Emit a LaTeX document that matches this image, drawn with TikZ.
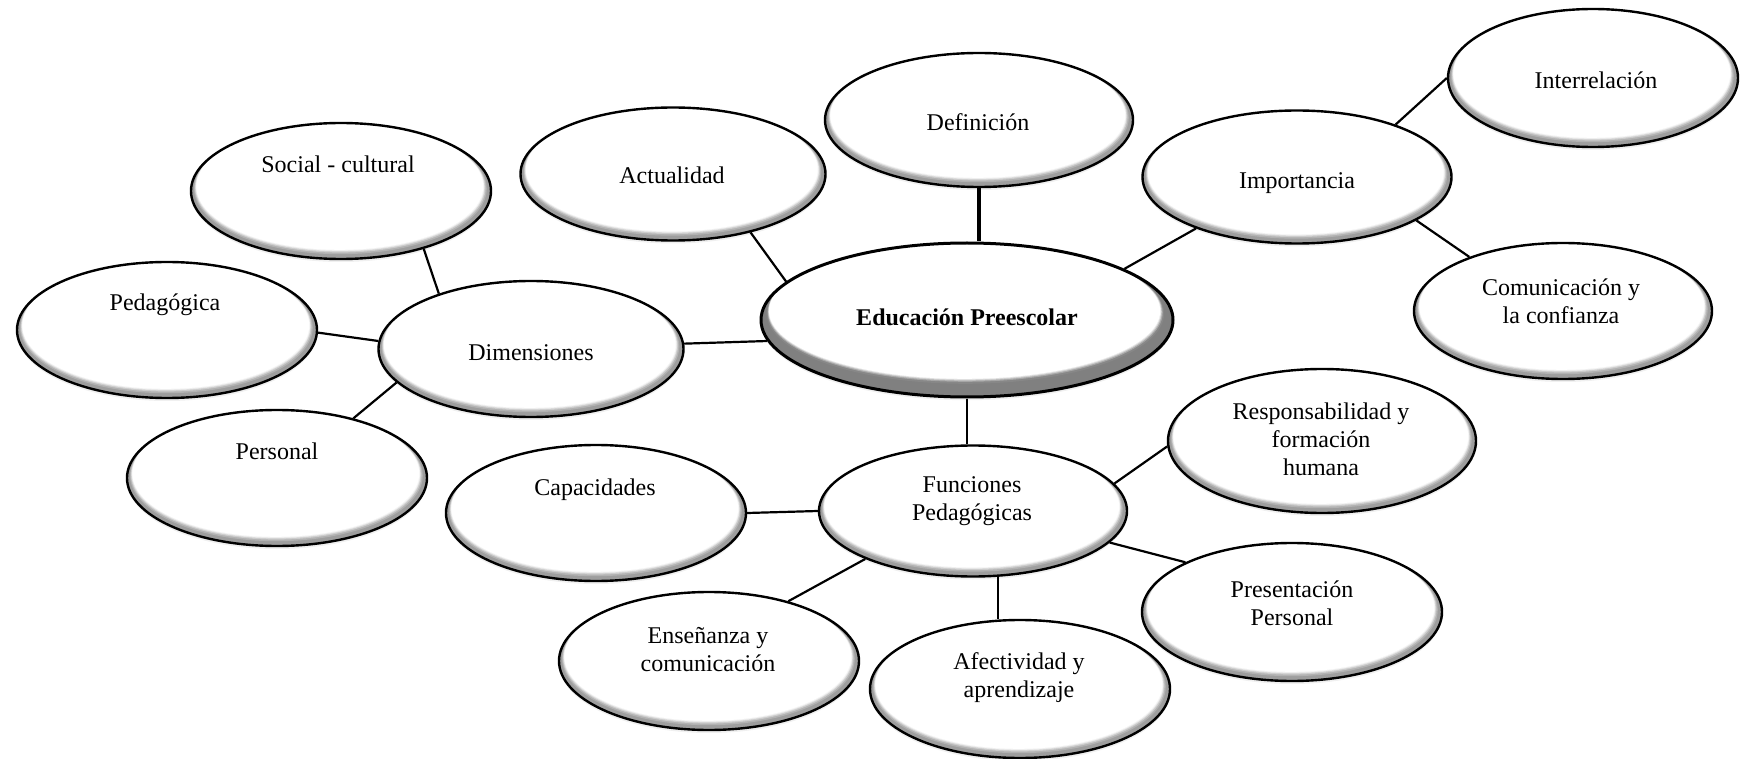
\documentclass[tikz,border=0pt]{standalone}
\usepackage{fontspec}
\setmainfont{Liberation Serif}
\usetikzlibrary{shapes.geometric,calc,shadows}
\newcommand\bvl[5]{\fill[#1] let \p1=(path picture bounding box.north east), \p2=(path picture bounding box.center) in ({\x2-#5},{\y2+#2}) ellipse [x radius={\x1-\x2-#3}, y radius={\y1-\y2-#2}];}
\begin{document}
\begin{tikzpicture}[x=0.5pt,y=-0.5pt,
  bub/.style={ellipse, draw=black, line width=1.2pt, fill=black!38, inner sep=0pt,
    minimum width=150pt, minimum height=68pt,
    drop shadow={opacity=0.12, shadow xshift=0pt, shadow yshift=-1.5pt},
    path picture={\bvl{black!30}{1.2pt}{1.8pt}{}{0.3pt}\bvl{black!20}{1.6pt}{2.3pt}{}{0.4pt}\bvl{black!10}{1.9pt}{2.7pt}{}{0.5pt}\bvl{black!4}{2.1pt}{3pt}{}{0.5pt}\bvl{white}{2.3pt}{3.3pt}{}{0.6pt}}},
  bigbub/.style={ellipse, draw=black, line width=1.5pt, fill=black!50, inner sep=0pt,
    minimum width=206pt, minimum height=77pt,
    drop shadow={opacity=0.12, shadow xshift=0pt, shadow yshift=-1.6pt},
    path picture={\bvl{black!47}{3.3pt}{3.6pt}{}{0.8pt}\bvl{black!35}{3.8pt}{4.2pt}{}{0.9pt}\bvl{black!20}{4.1pt}{4.6pt}{}{1pt}\bvl{black!8}{4.35pt}{4.9pt}{}{1.1pt}\bvl{white}{4.55pt}{5.2pt}{}{1.2pt}}},
  conn/.style={line width=1.1pt, draw=black},
  thickconn/.style={line width=2pt, draw=black},
  txt/.style={align=center, inner sep=0pt, font=\fontsize{12pt}{14pt}\selectfont},
  txt1/.style={txt, text height=8.5pt, text depth=2.5pt}
]
\useasboundingbox (0,0) rectangle (1741,759);

% bubbles
\node[bub] (soc) at (341,191) {};
\node[bub] (ped) at (167,330) {};
\node[bub, minimum width=152.5pt] (dim) at (531,349) {};
\node[bub] (per) at (277,478) {};
\node[bub, minimum width=152.5pt, minimum height=66.5pt] (act) at (673,174) {};
\node[bub, minimum width=154pt, minimum height=67pt] (def) at (979,120) {};
\node[bigbub] (edu) at (967,320) {};
\node[bub, minimum width=154.5pt, minimum height=66.5pt] (imp) at (1297,177) {};
\node[bub, minimum width=145pt, minimum height=69pt] (int) at (1593,78) {};
\node[bub, minimum width=149pt] (com) at (1563,311) {};
\node[bub] (cap) at (596,513) {};
\node[bub, minimum width=154pt, minimum height=65.5pt] (fun) at (973,511) {};
\node[bub, minimum width=154pt, minimum height=72pt] (res) at (1322,441) {};
\node[bub, minimum height=69pt] (pre) at (1292,612) {};
\node[bub, minimum height=69pt] (ens) at (709,661) {};
\node[bub, minimum height=69pt] (afe) at (1020,689) {};

% connectors
\draw[conn] (soc.-35) -- (dim.149);
\draw[conn] (ped.-1) -- (dim.177);
\draw[conn] (dim.-166) -- (per.38);
\draw[conn] (dim.2.6) -- (edu.186.5);
\draw[conn] (act.-37) -- (edu.168.5);
\draw[thickconn] (def.south) -- (def.south |- edu.north);
\draw[conn] (edu.18.5) -- (imp.207);
\draw[conn] (imp.28.6) -- (int.west);
\draw[conn] (imp.-20) -- (com.150);
\draw[conn] (edu.south) -- (edu.south |- fun.north);
\draw[conn] (cap.east) -- (fun.west);
\draw[conn] (fun.204) -- (ens.37);
\draw[conn] (fun.-69) -- (fun.-69 |- afe.north);
\draw[conn] (fun.11.4) -- (res.182);
\draw[conn] (fun.-13.5) -- (pre.155);

% texts
\node[txt1] (soc-t) at (338,167) {Social - cultural};
\node[txt1] (ped-t) at (165,305) {Pedagógica};
\node[txt1] (dim-t) at (531,355) {Dimensiones};
\node[txt1] (per-t) at (277,453) {Personal};
\node[txt1] (act-t) at (672,178) {Actualidad};
\node[txt1] (def-t) at (978,125) {Definición};
\node[txt1, font=\fontsize{12pt}{14pt}\selectfont\bfseries] (edu-t) at (967,320) {Educación Preescolar};
\node[txt1] (imp-t) at (1297,183) {Importancia};
\node[txt1] (int-t) at (1596,83) {Interrelación};
\node[txt] (com-t) at (1561,301) {Comunicación y\\la confianza};
\node[txt1] (cap-t) at (595,489) {Capacidades};
\node[txt] (fun-t) at (972,501) {Funciones\\Pedagógicas};
\node[txt] (res-t) at (1321,439) {Responsabilidad y\\formación\\humana};
\node[txt] (pre-t) at (1292,603) {Presentación\\Personal};
\node[txt] (ens-t) at (708,650) {Enseñanza y\\comunicación};
\node[txt] (afe-t) at (1019,678) {Afectividad y\\aprendizaje};
\end{tikzpicture}
\end{document}
